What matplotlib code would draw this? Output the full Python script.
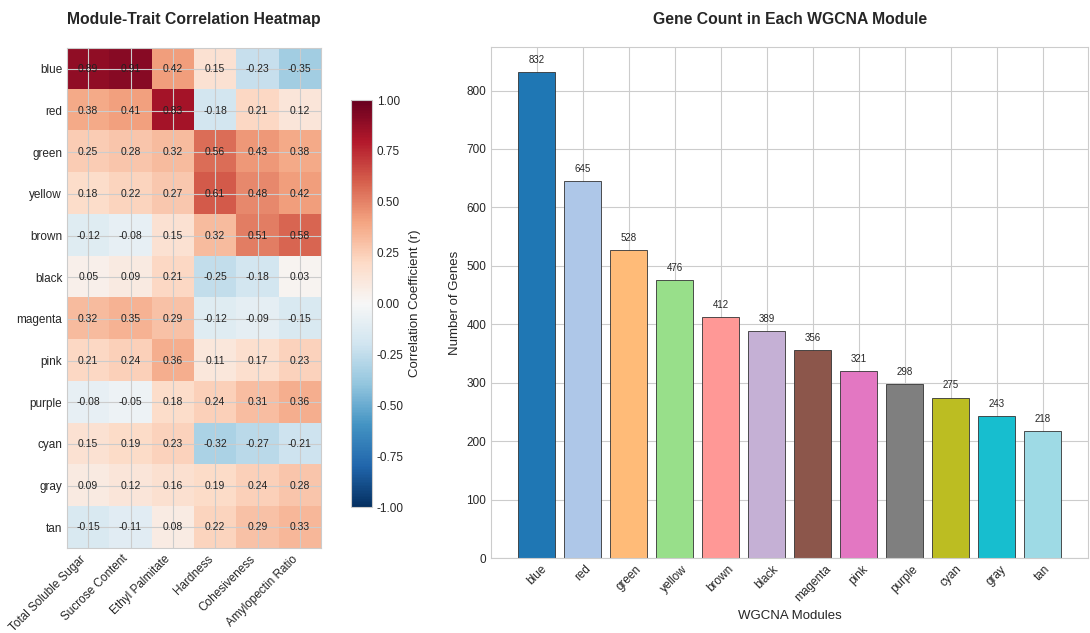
import numpy as np
import matplotlib
matplotlib.use("Agg")
import matplotlib.pyplot as plt
import seaborn as sns

sns.set_style("whitegrid")
plt.rcParams['font.family'] = ['Liberation Sans', 'DejaVu Sans']
plt.rcParams['xtick.major.size'] = 0
plt.rcParams['ytick.major.size'] = 0

modules = ["blue", "red", "green", "yellow", "brown", "black", "magenta",
           "pink", "purple", "cyan", "gray", "tan"]
traits = ["Total Soluble Sugar", "Sucrose Content", "Ethyl Palmitate",
          "Hardness", "Cohesiveness", "Amylopectin Ratio"]
corr = [
    [0.89, 0.91, 0.42, 0.15, -0.23, -0.35],
    [0.38, 0.41, 0.83, -0.18, 0.21, 0.12],
    [0.25, 0.28, 0.32, 0.56, 0.43, 0.38],
    [0.18, 0.22, 0.27, 0.61, 0.48, 0.42],
    [-0.12, -0.08, 0.15, 0.32, 0.51, 0.58],
    [0.05, 0.09, 0.21, -0.25, -0.18, 0.03],
    [0.32, 0.35, 0.29, -0.12, -0.09, -0.15],
    [0.21, 0.24, 0.36, 0.11, 0.17, 0.23],
    [-0.08, -0.05, 0.18, 0.24, 0.31, 0.36],
    [0.15, 0.19, 0.23, -0.32, -0.27, -0.21],
    [0.09, 0.12, 0.16, 0.19, 0.24, 0.28],
    [-0.15, -0.11, 0.08, 0.22, 0.29, 0.33],
]
gene_counts = [832, 645, 528, 476, 412, 389, 356, 321, 298, 275, 243, 218]
bar_colors = ["#1f77b4", "#aec7e8", "#ffbb78", "#98df8a", "#ff9896", "#c5b0d5",
              "#8c564b", "#e377c2", "#7f7f7f", "#bcbd22", "#17becf", "#9edae5"]

fig = plt.figure(figsize=(10.9, 6.33), dpi=100)

# ---------- heatmap ----------
ax1 = fig.add_axes([0.0615, 0.134, 0.233, 0.790])
im = ax1.imshow(np.array(corr), cmap="RdBu_r", vmin=-1, vmax=1, aspect="auto")
ax1.set_xticks(range(len(traits)))
ax1.set_xticklabels(traits, rotation=45, ha="right", fontsize=8.5)
ax1.set_yticks(range(len(modules)))
ax1.set_yticklabels(modules, fontsize=8.5)
for i in range(len(modules)):
    for j in range(len(traits)):
        ax1.text(j, i, f"{corr[i][j]:.2f}", ha="center", va="center",
                 fontsize=7.5, color="#222222")
ax1.set_title("Module-Trait Correlation Heatmap", fontsize=11.3,
              fontweight="bold", pad=17)

cax = fig.add_axes([0.322, 0.199, 0.0193, 0.643])
cb = fig.colorbar(im, cax=cax)
ticks = [-1, -0.75, -0.5, -0.25, 0, 0.25, 0.5, 0.75, 1]
cb.set_ticks(ticks)
cb.set_ticklabels([f"{v:.2f}" for v in ticks])
cb.ax.tick_params(labelsize=8.5, length=0)
cb.set_label("Correlation Coefficient (r)", fontsize=9.5)
cb.outline.set_edgecolor("#cccccc")

# ---------- bar chart ----------
ax2 = fig.add_axes([0.4505, 0.118, 0.548, 0.807])
x = np.arange(len(modules))
bars = ax2.bar(x, gene_counts, color=bar_colors, edgecolor="#333333",
               linewidth=0.6, width=0.8)
for b, v in zip(bars, gene_counts):
    ax2.text(b.get_x() + b.get_width() / 2, v + 12, str(v),
             ha="center", va="bottom", fontsize=7)
ax2.set_xticks(x)
ax2.set_xticklabels(modules, rotation=45, fontsize=8.5)
ax2.tick_params(axis="y", labelsize=8.5)
ax2.set_xlabel("WGCNA Modules", fontsize=9.5)
ax2.set_ylabel("Number of Genes", fontsize=9.5)
ax2.set_title("Gene Count in Each WGCNA Module", fontsize=11.3,
              fontweight="bold", pad=17)

fig.savefig("out.png", dpi=100)
